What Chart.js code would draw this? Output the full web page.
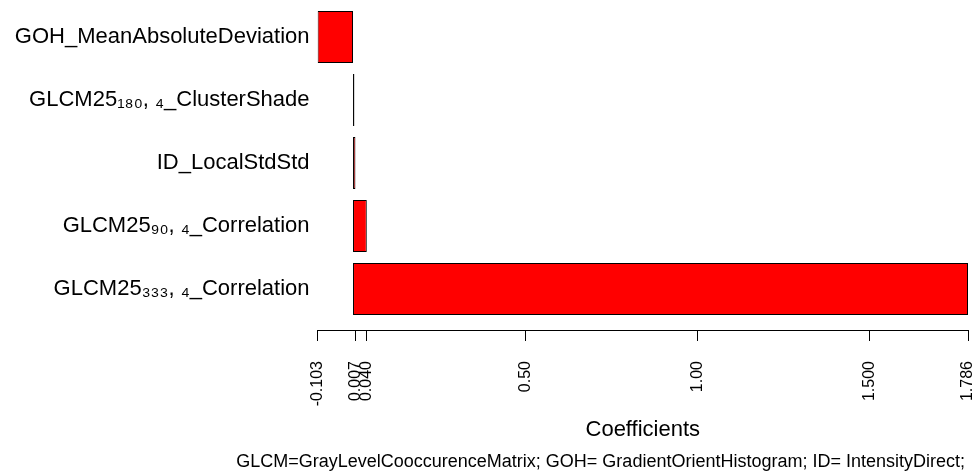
<!DOCTYPE html>
<html><head><meta charset="utf-8">
<script src="https://cdn.jsdelivr.net/npm/chart.js@4"></script>
<style>html,body{margin:0;padding:0;background:#fff;} canvas{display:block;}</style>
</head><body>
<canvas id="c" width="979" height="473"></canvas>
<script>
const categories = ["GOH_MeanAbsoluteDeviation", "GLCM25\u2081\u2088\u2080, \u2084_ClusterShade", "ID_LocalStdStd", "GLCM25\u2089\u2080, \u2084_Correlation", "GLCM25\u2083\u2083\u2083, \u2084_Correlation"];
const coefficients = [-0.103, 0.004, 0.007, 0.040, 1.786];
const tickValues = [-0.103, 0.007, 0.040, 0.50, 1.00, 1.500, 1.786];
const tickLabels = ["-0.103", "0.007", "0.040", "0.50", "1.00", "1.500", "1.786"];
const axisTitle = "Coefficients";
const footnote = "GLCM=GrayLevelCooccurenceMatrix; GOH= GradientOrientHistogram; ID= IntensityDirect;";

const FONT = "'Liberation Sans', Arial, sans-serif";

const footnotePlugin = {
  id: 'footnote',
  afterDraw(chart) {
    const ctx = chart.ctx;
    ctx.save();
    ctx.font = "18px " + FONT;
    ctx.fillStyle = '#000';
    ctx.textAlign = 'right';
    ctx.textBaseline = 'alphabetic';
    ctx.fillText(footnote, chart.chartArea.right - 3, 467);
    ctx.restore();
  }
};

new Chart(document.getElementById('c'), {
  type: 'bar',
  data: {
    datasets: [{
      data: coefficients.map((v, i) => ({ x: v, y: i })),
      backgroundColor: '#ff0000',
      borderColor: '#000',
      borderWidth: 1,
      borderSkipped: false,
      barPercentage: 0.825,
      categoryPercentage: 1
    }]
  },
  options: {
    indexAxis: 'y',
    responsive: false,
    animation: false,
    devicePixelRatio: 1,
    layout: { padding: { left: 0, right: 11, top: 0, bottom: 0 } },
    plugins: { legend: { display: false }, tooltip: { enabled: false } },
    scales: {
      y: {
        type: 'linear',
        offset: false,
        reverse: true,
        min: -0.587,
        max: 4.651,
        afterBuildTicks: s => { s.ticks = categories.map((_, i) => ({ value: i })); },
        afterFit: s => { s.width = 317.56; s.paddingTop = 0; s.paddingBottom = 0; },
        ticks: {
          callback: v => categories[v],
          font: { family: FONT, size: 22 },
          color: '#000',
          padding: 8,
          autoSkip: false
        },
        grid: { display: false, drawTicks: false, offset: false },
        border: { display: false }
      },
      x: {
        type: 'linear',
        offset: false,
        min: -0.103,
        max: 1.786,
        afterBuildTicks: s => { s.ticks = tickValues.map(v => ({ value: v })); },
        afterFit: s => { s.height = 143; s.paddingLeft = 0; s.paddingRight = 0; },
        ticks: {
          callback: (v, i) => tickLabels[i],
          font: { family: FONT, size: 16 },
          color: '#000',
          minRotation: 90,
          maxRotation: 90,
          padding: 20,
          autoSkip: false
        },
        grid: { display: true, drawOnChartArea: false, drawTicks: true, tickLength: 11, color: '#000', lineWidth: 1, offset: false },
        border: { display: true, color: '#000', width: 1 },
        title: {
          display: true,
          text: axisTitle,
          font: { family: FONT, size: 22 },
          color: '#000',
          padding: { top: 0, bottom: 30 }
        }
      }
    }
  },
  plugins: [footnotePlugin]
});
</script>
</body></html>
